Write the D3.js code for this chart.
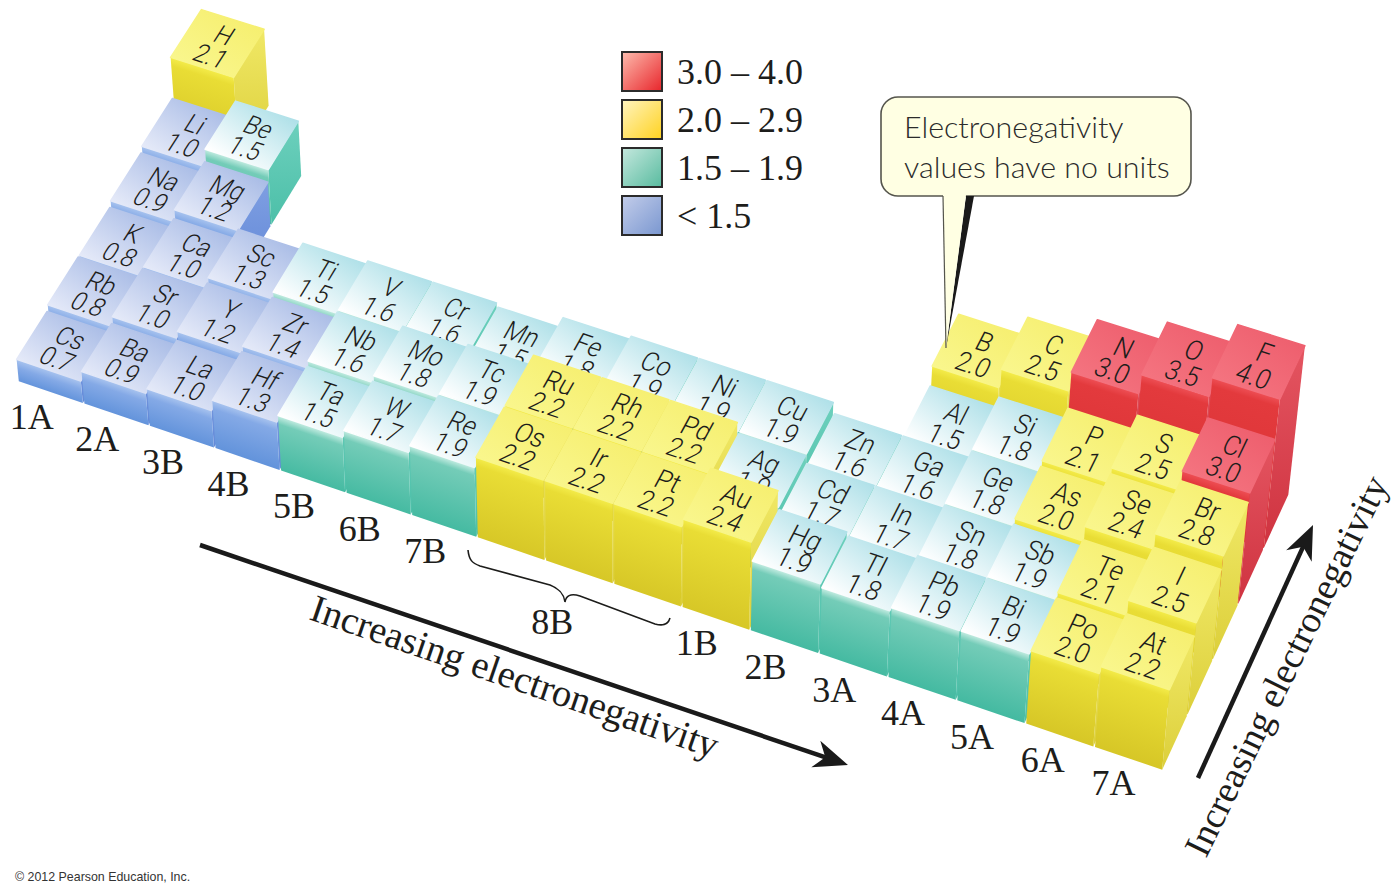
<!DOCTYPE html>
<html>
<head>
<meta charset="utf-8">
<script src="https://cdn.jsdelivr.net/npm/d3@7"></script>
<style>
  html, body { margin: 0; padding: 0; background: #fff; }
  svg { display: block; }
</style>
</head>
<body>
<svg id="chart" width="1400" height="894"></svg>
<script>
// element symbols and values, one list per row of the table, front row first
var row0Symbols = ["Cs","Ba","La","Hf","Ta","W","Re","Os","Ir","Pt","Au","Hg","Tl","Pb","Bi","Po","At"];
var row0Values  = [0.7,0.9,1.0,1.3,1.5,1.7,1.9,2.2,2.2,2.2,2.4,1.9,1.8,1.9,1.9,2.0,2.2];
var row1Symbols = ["Rb","Sr","Y","Zr","Nb","Mo","Tc","Ru","Rh","Pd","Ag","Cd","In","Sn","Sb","Te","I"];
var row1Values  = [0.8,1.0,1.2,1.4,1.6,1.8,1.9,2.2,2.2,2.2,1.9,1.7,1.7,1.8,1.9,2.1,2.5];
var row2Symbols = ["K","Ca","Sc","Ti","V","Cr","Mn","Fe","Co","Ni","Cu","Zn","Ga","Ge","As","Se","Br"];
var row2Values  = [0.8,1.0,1.3,1.5,1.6,1.6,1.5,1.8,1.9,1.9,1.9,1.6,1.6,1.8,2.0,2.4,2.8];
var row3Symbols = ["Na","Mg",null,null,null,null,null,null,null,null,null,null,"Al","Si","P","S","Cl"];
var row3Values  = [0.9,1.2,null,null,null,null,null,null,null,null,null,null,1.5,1.8,2.1,2.5,3.0];
var row4Symbols = ["Li","Be",null,null,null,null,null,null,null,null,null,null,"B","C","N","O","F"];
var row4Values  = [1.0,1.5,null,null,null,null,null,null,null,null,null,null,2.0,2.5,3.0,3.5,4.0];
var row5Symbols = ["H"];
var row5Values  = [2.1];

var groupLabels = ["1A","2A","3B","4B","5B","6B","7B","8B","1B","2B","3A","4A","5A","6A","7A"];
var groupCols   = [0,1,2,3,4,5,6,8,10,11,12,13,14,15,16];

var legendLabels = ["3.0 \u2013 4.0","2.0 \u2013 2.9","1.5 \u2013 1.9","< 1.5"];
var legendClasses = ["red","yellow","green","blue"];

var symbolRows = [row0Symbols,row1Symbols,row2Symbols,row3Symbols,row4Symbols,row5Symbols];
var valueRows  = [row0Values,row1Values,row2Values,row3Values,row4Values,row5Values];

var serif = "'Liberation Serif', serif";

var styles = {
  blue:   {top:["#e4e9f8","#a9bce6"], band:"#a9c4ef", wall:["#84a9e6","#5f91da"], side:["#7f9fe2","#6389d8"], swatch:["#c3cdea","#7a97d0"]},
  green:  {top:["#ffffff","#aee0e8"], band:"#c6ede3", wall:["#74ccb8","#42b9a0"], side:["#6dd0bd","#4cbfa8"], swatch:["#c5e8de","#58bb9f"]},
  yellow: {top:["#f9f68c","#f6ef70"], band:"#f4ec4a", wall:["#e9dd35","#d6c626"], side:["#f0e866","#dccf3a"], swatch:["#fff4c0","#ffd21f"]},
  red:    {top:["#f4737f","#ee5f6e"], band:"#ee4f55", wall:["#e33a3d","#d83033"], side:["#e45561","#cf3340"], swatch:["#fdbcae","#e8252b"]}
};

var svg = d3.select("#chart");
var defs = svg.append("defs");

// shared gradients for each colour class
Object.keys(styles).forEach(function(k) {
  var s = styles[k];
  var addGrad = function(id, colors, x1, y1, x2, y2) {
    var g = defs.append("linearGradient").attr("id", id)
      .attr("x1", x1).attr("y1", y1).attr("x2", x2).attr("y2", y2);
    g.append("stop").attr("offset", 0).attr("stop-color", colors[0]);
    g.append("stop").attr("offset", 1).attr("stop-color", colors[1]);
  };
  addGrad("top-" + k, s.top, 0.2, 0.85, 0.85, 0.15);
  addGrad("side-" + k, s.side, 0, 0, 0, 1);
  addGrad("swatch-" + k, s.swatch, 0, 0, 1, 1);
});

// position of the table corners on the floor
var baseX = d3.scaleLinear().domain([0,7,11,17]).range([18,477,750,1163]);
var baseY = d3.scaleLinear().domain([0,7,11,17]).range([381,537,630,770]);
var rowDx = d3.scaleLinear().domain([0,17]).range([31.5,25.4]);
var rowDy = d3.scaleLinear().domain([0,17]).range([-49.5,-55.4]);
// electronegativity to block height in pixels
var heightScale = d3.scaleLinear().domain([0.7,1.0,2.2,4.0]).range([22,37,80,149]);
var classScale = d3.scaleThreshold().domain([1.5,2,3]).range(["blue","green","yellow","red"]);
// group labels drift a little to the right of the block fronts at the far end
var labelShift = d3.scaleLinear().domain([0,14,16]).range([-19,-19,-15]);

function floorPt(col, row) {
  return [baseX(col) + row * rowDx(col), baseY(col) + row * rowDy(col)];
}
function liftPt(p, h) {
  return [p[0] + h * (p[0] - 620) / 6000, p[1] - h];
}
function poly(pts) {
  return pts.map(function(p) { return p[0].toFixed(1) + "," + p[1].toFixed(1); }).join(" ");
}

var blocks = svg.append("g");
var gap = 0.012, backGap = 0.035;
var gradId = 0;

// draw back rows first, then left to right, so nearer blocks cover farther ones
d3.range(symbolRows.length - 1, -1, -1).forEach(function(row) {
  symbolRows[row].forEach(function(symbol, col) {
    if (symbol === null) return;
    var value = valueRows[row][col];
    var k = classScale(value);
    var s = styles[k];
    var h = heightScale(value);
    var l = col + gap, r = col + 1 - gap;

    var fl = floorPt(l, row), fr = floorPt(r, row), br = floorPt(r, row + 1 - backGap), bl = floorPt(l, row + 1 - backGap);
    var tfl = liftPt(fl, h), tfr = liftPt(fr, h), tbr = liftPt(br, h), tbl = liftPt(bl, h);

    var g = blocks.append("g");

    g.append("polygon").attr("points", poly([fr, br, tbr, tfr]))
      .attr("fill", "url(#side-" + k + ")");

    // wall gradient runs square to the top edge
    var ex = tfr[0] - tfl[0], ey = tfr[1] - tfl[1], len = Math.sqrt(ex * ex + ey * ey);
    var mx = (tfl[0] + tfr[0]) / 2, my = (tfl[1] + tfr[1]) / 2;
    var id = "wall-" + (gradId++);
    var wg = defs.append("linearGradient").attr("id", id).attr("gradientUnits", "userSpaceOnUse")
      .attr("x1", mx).attr("y1", my)
      .attr("x2", mx - ey / len * h).attr("y2", my + ex / len * h);
    var bandEnd = Math.min(0.4, 8 / h);
    wg.append("stop").attr("offset", 0).attr("stop-color", s.band);
    wg.append("stop").attr("offset", bandEnd).attr("stop-color", s.wall[0]);
    wg.append("stop").attr("offset", 1).attr("stop-color", s.wall[1]);

    g.append("polygon").attr("points", poly([tfl, tfr, fr, fl]))
      .attr("fill", "url(#" + id + ")");

    g.append("polygon").attr("points", poly([tbl, tbr, tfr, tfl]))
      .attr("fill", "url(#top-" + k + ")")
      .attr("stroke", "url(#top-" + k + ")")
      .attr("stroke-width", 1.5)
      .attr("stroke-linejoin", "round");

    // lettering lies in the plane of the top face
    var ux = (tfr[0] - tfl[0]) / 100, uy = (tfr[1] - tfl[1]) / 100;
    var vx = (tfl[0] - tbl[0]) / 96.5, vy = (tfl[1] - tbl[1]) / 96.5;
    var squeeze = 0.78;
    var label = g.append("g")
      .attr("transform", "matrix(" + [ux * squeeze, uy * squeeze, vx, vy, tbl[0], tbl[1]].join(",") + ")")
      .attr("font-family", "Roboto, 'Liberation Sans', sans-serif")
      .attr("font-weight", 300)
      .attr("font-size", 46)
      .attr("fill", "#1d1d1b")
      .attr("text-anchor", "middle");
    label.append("text").attr("x", 52 / squeeze).attr("y", 47).text(symbol);
    label.append("text").attr("x", 52 / squeeze).attr("y", 89).text(value.toFixed(1));
  });
});

// group labels under the front row
svg.append("g").selectAll("text")
  .data(groupLabels)
  .enter()
  .append("text")
  .attr("x", function(d, i) { var p = floorPt(groupCols[i] + 0.5, 0); return p[0] + (d === "8B" ? -27 : labelShift(groupCols[i])); })
  .attr("y", function(d, i) { var p = floorPt(groupCols[i] + 0.5, 0); return p[1] + (d === "8B" ? 62 : 37); })
  .attr("text-anchor", "middle")
  .attr("font-family", serif)
  .attr("font-size", 36)
  .attr("fill", "#1d1d1b")
  .text(function(d) { return d; });

// brace under 8B
svg.append("path")
  .attr("d", "M468,550 C469,560 472,563 480,566 L550,585 C560,589 564,594 565,602 C566,596 570,593 580,596 L655,624 C662,626 668,625 670,618")
  .attr("fill", "none").attr("stroke", "#1d1d1b").attr("stroke-width", 1.6);

// legend
var legend = svg.append("g").selectAll("g")
  .data(legendLabels)
  .enter()
  .append("g")
  .attr("transform", function(d, i) { return "translate(621," + (51 + i * 48) + ")"; });
legend.append("rect")
  .attr("x", 1).attr("y", 1).attr("width", 40).attr("height", 39)
  .attr("fill", function(d, i) { return "url(#swatch-" + legendClasses[i] + ")"; })
  .attr("stroke", "#2b2b2b").attr("stroke-width", 2);
legend.append("text")
  .attr("x", 56).attr("y", 33)
  .attr("font-family", serif).attr("font-size", 36).attr("fill", "#1d1d1b")
  .text(function(d) { return d; });

// callout
var callout = svg.append("g");
callout.append("rect")
  .attr("x", 881).attr("y", 97).attr("width", 310).attr("height", 99).attr("rx", 17)
  .attr("fill", "#ffffe3").attr("stroke", "#55554d").attr("stroke-width", 1.6);
callout.append("polygon").attr("points", "966,196 974,196 946,348").attr("fill", "#1a1a1a");
callout.append("polygon").attr("points", "943,195 966,195 946,348").attr("fill", "#ffffe3");
callout.append("line").attr("x1", 943).attr("y1", 196).attr("x2", 946).attr("y2", 348)
  .attr("stroke", "#55554d").attr("stroke-width", 1.2);
callout.selectAll("text")
  .data(["Electronegativity", "values have no units"])
  .enter()
  .append("text")
  .attr("x", 904)
  .attr("y", function(d, i) { return 138 + i * 40; })
  .attr("font-family", "Lato, 'Open Sans', sans-serif")
  .attr("font-weight", 300)
  .attr("font-size", 30.4)
  .attr("fill", "#2b2b2b")
  .text(function(d) { return d; });

// arrows along the two axes
function arrow(x1, y1, x2, y2) {
  var a = Math.atan2(y2 - y1, x2 - x1);
  var g = svg.append("g").attr("transform", "translate(" + x2 + "," + y2 + ") rotate(" + (a * 180 / Math.PI) + ")");
  var len = Math.sqrt((x2 - x1) * (x2 - x1) + (y2 - y1) * (y2 - y1));
  g.append("line").attr("x1", -len).attr("y1", 0).attr("x2", -12).attr("y2", 0)
    .attr("stroke", "#1a1a1a").attr("stroke-width", 4.5);
  g.append("path").attr("d", "M0,0 L-34,-14 L-24,0 L-34,14 Z").attr("fill", "#1a1a1a");
}
arrow(200, 545, 848, 765);
arrow(1198, 778, 1313, 525);

svg.append("text")
  .attr("transform", "translate(308,619) rotate(19)")
  .attr("font-family", serif).attr("font-size", 38.5).attr("fill", "#1d1d1b")
  .text("Increasing electronegativity");
svg.append("text")
  .attr("transform", "translate(1206,859) rotate(-64)")
  .attr("font-family", serif).attr("font-size", 37.5).attr("fill", "#1d1d1b")
  .text("Increasing electronegativity");

svg.append("text")
  .attr("x", 15).attr("y", 881)
  .attr("font-family", "'Liberation Sans', sans-serif").attr("font-size", 12.4).attr("fill", "#333")
  .text("\u00a9 2012 Pearson Education, Inc.");
</script>
</body>
</html>
